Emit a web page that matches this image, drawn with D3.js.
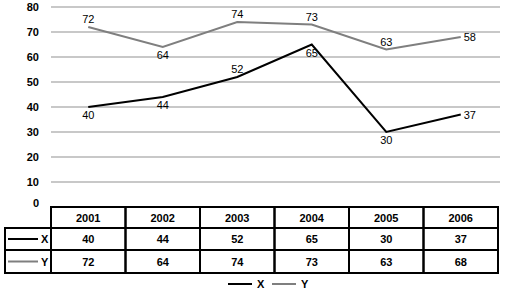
<!DOCTYPE html>
<html>
<head>
<meta charset="utf-8">
<script src="https://cdn.jsdelivr.net/npm/d3@7"></script>
<style>
  body { margin: 0; background: #fff; }
  svg { display: block; font-family: "Liberation Sans", Arial, sans-serif; }
</style>
</head>
<body>
<div id="chart"></div>
<script>
// chart data
const years = ["2001", "2002", "2003", "2004", "2005", "2006"];
const xValues = [40, 44, 52, 65, 30, 37];
const yValues = [72, 64, 74, 73, 63, 68];
// point labels as printed on the chart (last Y label reads 58 there)
const xLabels = ["40", "44", "52", "65", "30", "37"];
const yLabels = ["72", "64", "74", "73", "63", "58"];
const xLabelPos = ["below", "below", "above", "below", "below", "right"];
const yLabelPos = ["above", "below", "above", "above", "above", "right"];
const yTicks = [0, 10, 20, 30, 40, 50, 60, 70, 80];

const width = 508, height = 292;
const plotLeft = 51, plotRight = 498, plotTop = 7, zeroY = 207;
const rowH = [21, 22, 23];

const svg = d3.select("#chart").append("svg")
    .attr("width", width)
    .attr("height", height);

const x = d3.scaleBand().domain(years).range([plotLeft, plotRight]);
const y = d3.scaleLinear().domain([0, 80]).range([zeroY, plotTop]);

// gridlines
svg.append("g")
    .selectAll("line")
    .data(yTicks.filter(d => d > 0))
    .enter().append("line")
        .attr("x1", plotLeft)
        .attr("x2", plotRight + 2)
        .attr("y1", d => y(d))
        .attr("y2", d => y(d))
        .attr("stroke", "#c8c8c8")
        .attr("stroke-width", 2);

// y axis labels
svg.append("g")
    .selectAll("text")
    .data(yTicks)
    .enter().append("text")
        .attr("x", 39)
        .attr("y", d => y(d) + (d === 0 ? 0 : 4))
        .attr("text-anchor", "end")
        .style("font-size", "11px")
        .style("font-weight", "bold")
        .text(d => d);

const line = d3.line()
    .x((d, i) => x(years[i]) + x.bandwidth() / 2)
    .y(d => y(d));

const series = [
    {name: "X", values: xValues, labels: xLabels, pos: xLabelPos, color: "#000"},
    {name: "Y", values: yValues, labels: yLabels, pos: yLabelPos, color: "#7f7f7f"}
];

series.forEach(s => {
    svg.append("path")
        .attr("fill", "none")
        .attr("stroke", s.color)
        .attr("stroke-width", 2)
        .attr("d", line(s.values));

    svg.append("g")
        .selectAll("text")
        .data(s.values)
        .enter().append("text")
            .attr("x", (d, i) => {
                const cx = x(years[i]) + x.bandwidth() / 2;
                return s.pos[i] === "right" ? cx + 3 : cx;
            })
            .attr("y", (d, i) => {
                const cy = y(d);
                if (s.pos[i] === "above") return cy - 4;
                if (s.pos[i] === "below") return cy + 12;
                return cy + 4;
            })
            .attr("text-anchor", (d, i) => s.pos[i] === "right" ? "start" : "middle")
            .style("font-size", "11px")
            .text((d, i) => s.labels[i]);
});

// data table
const tableLeft = 5;
const rowsY = [zeroY, zeroY + rowH[0], zeroY + rowH[0] + rowH[1]];
const table = svg.append("g");

years.forEach(yr => {
    table.append("rect")
        .attr("x", x(yr))
        .attr("y", rowsY[0])
        .attr("width", x.bandwidth())
        .attr("height", rowH[0])
        .attr("fill", "none")
        .attr("stroke", "#000")
        .attr("stroke-width", 2);
    table.append("text")
        .attr("x", x(yr) + x.bandwidth() / 2)
        .attr("y", rowsY[0] + 15)
        .attr("text-anchor", "middle")
        .style("font-size", "11px")
        .style("font-weight", "bold")
        .text(yr);
});

series.forEach((s, r) => {
    const ry = rowsY[r + 1];
    const h = rowH[r + 1];
    table.append("rect")
        .attr("x", tableLeft)
        .attr("y", ry)
        .attr("width", plotLeft - tableLeft)
        .attr("height", h)
        .attr("fill", "none")
        .attr("stroke", "#000")
        .attr("stroke-width", 2);
    table.append("line")
        .attr("x1", 8).attr("x2", 38)
        .attr("y1", ry + h / 2).attr("y2", ry + h / 2)
        .attr("stroke", s.color)
        .attr("stroke-width", 2);
    table.append("text")
        .attr("x", 41)
        .attr("y", ry + h / 2 + 4)
        .style("font-size", "11px")
        .style("font-weight", "bold")
        .text(s.name);

    years.forEach((yr, i) => {
        table.append("rect")
            .attr("x", x(yr))
            .attr("y", ry)
            .attr("width", x.bandwidth())
            .attr("height", h)
            .attr("fill", "none")
            .attr("stroke", "#000")
            .attr("stroke-width", 2);
        table.append("text")
            .attr("x", x(yr) + x.bandwidth() / 2)
            .attr("y", ry + h / 2 + 4)
            .attr("text-anchor", "middle")
            .style("font-size", "11px")
            .style("font-weight", "bold")
            .text(s.values[i]);
    });
});

// legend
const legend = svg.append("g");
series.forEach((s, i) => {
    const lx = 228 + i * 44;
    legend.append("line")
        .attr("x1", lx).attr("x2", lx + 24)
        .attr("y1", 284).attr("y2", 284)
        .attr("stroke", s.color)
        .attr("stroke-width", 2);
    legend.append("text")
        .attr("x", lx + 29)
        .attr("y", 288)
        .style("font-size", "11px")
        .style("font-weight", "bold")
        .text(s.name);
});
</script>
</body>
</html>
